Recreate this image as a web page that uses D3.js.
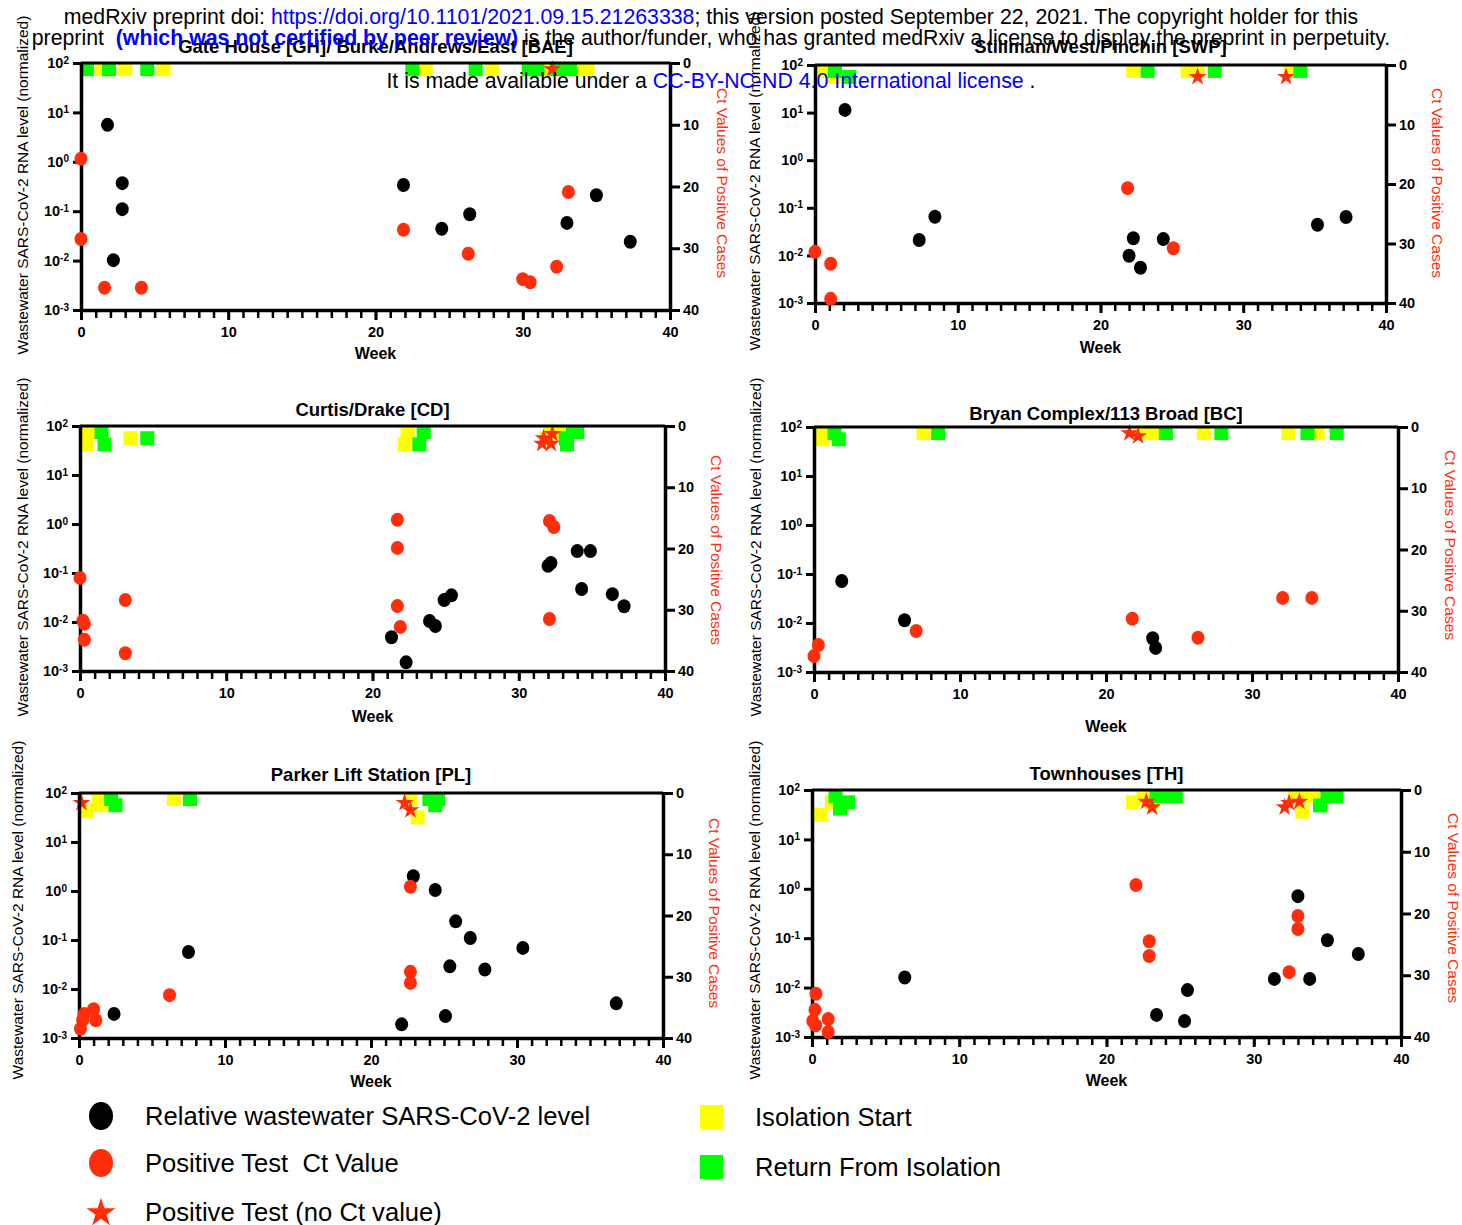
<!DOCTYPE html>
<html><head><meta charset="utf-8">
<script src="https://cdn.jsdelivr.net/npm/d3@7"></script>
<style>body{margin:0;background:#fff;} svg{display:block;font-family:"Liberation Sans",Arial,Helvetica,sans-serif;}</style>
</head><body><svg id="c" width="1462" height="1225"></svg>
<script>
// ---------- DATA ----------
const weekTicks = [0, 10, 20, 30, 40];
const weekMinor = d3.range(0, 41, 1);
const wwTicks = [1e-3, 1e-2, 1e-1, 1e0, 1e1, 1e2];
const ctTicks = [0, 10, 20, 30, 40];

const titles = ["Gate House [GH]/ Burke/Andrews/East [BAE]", "Stillman/West/Pinchin [SWP]", "Curtis/Drake [CD]",
  "Bryan Complex/113 Broad [BC]", "Parker Lift Station [PL]", "Townhouses [TH]"];

// [week, normalized wastewater level]
const ghWW = [[1.8,5.6],[2.8,0.37],[2.8,0.11],[2.2,0.0102],[21.9,0.34],[24.5,0.044],[26.4,0.087],[33.0,0.058],[35.0,0.21],[37.3,0.024]];
// [week, Ct value]
const ghCt = [[0,15.5],[0,28.5],[1.6,36.4],[4.1,36.4],[21.9,27.0],[26.3,30.9],[30.0,35.0],[30.5,35.5],[32.3,33.0],[33.1,20.9]];
// [week, stack row]
const ghIso = [[1.4,1],[3.0,1],[5.6,1],[23.4,1],[27.9,1],[31.7,1],[33.9,1],[34.4,1]];
const ghRet = [[0.4,1],[1.9,1],[4.5,1],[22.5,1],[26.8,1],[30.4,1],[31.0,1],[32.3,1],[33.2,1]];
const ghStar = [[32.0,1]];

const swpWW = [[2.1,11.4],[7.3,0.021],[8.4,0.065],[22.0,0.0098],[22.3,0.023],[22.8,0.0055],[24.4,0.022],[35.2,0.044],[37.2,0.064]];
const swpCt = [[0,31.4],[1.1,33.4],[1.1,39.3],[21.9,20.7],[25.1,30.8]];
const swpIso = [[0.45,1],[1.3,2],[22.3,1],[26.1,1],[26.8,1],[33.3,1]];
const swpRet = [[1.4,1],[2.4,2],[23.3,1],[28.0,1],[34.0,1]];
const swpStar = [[26.8,2],[33.0,2]];

const cdWW = [[21.3,0.0049],[22.3,0.0015],[23.9,0.0105],[24.3,0.0083],[24.9,0.028],[25.4,0.035],[32.0,0.14],[32.2,0.16],[34.0,0.28],[34.9,0.28],[34.3,0.047],[36.4,0.037],[37.2,0.021]];
const cdCt = [[0,24.8],[0.2,31.8],[0.3,32.3],[0.3,34.9],[3.1,28.4],[3.1,37.1],[21.7,15.3],[21.7,19.9],[21.7,29.4],[21.9,32.8],[32.1,15.5],[32.4,16.5],[32.1,31.5]];
const cdIso = [[0.58,1],[0.44,3],[3.45,2],[22.4,1],[22.2,3],[32.2,1],[32.7,1],[31.9,2]];
const cdRet = [[1.47,1],[1.68,3],[4.6,2],[23.5,1],[23.2,3],[33.7,1],[34.0,1],[33.2,2],[33.3,3]];
const cdStar = [[31.7,2],[32.3,1.3],[31.6,2.9],[32.2,2.9]];

const bcWW = [[1.9,0.072],[6.2,0.0114],[23.2,0.0049],[23.4,0.0031]];
const bcCt = [[0,37.4],[0.3,35.6],[7.0,33.3],[21.8,31.3],[26.3,34.4],[32.1,27.9],[34.1,27.9]];
const bcIso = [[0.4,1],[0.6,2],[7.5,1],[22.4,1],[23.3,1],[26.7,1],[32.5,1],[34.5,1]];
const bcRet = [[1.4,1],[1.7,2],[8.5,1],[24.1,1],[27.9,1],[33.8,1],[35.8,1]];
const bcStar = [[21.6,1],[22.2,1.5]];

const plWW = [[2.4,0.0031],[7.5,0.057],[22.1,0.0019],[22.9,2.0],[24.4,1.05],[25.1,0.0028],[25.4,0.029],[25.8,0.24],[26.8,0.11],[27.8,0.025],[30.4,0.069],[36.8,0.0051]];
const plCt = [[0.1,38.5],[0.25,37.1],[0.35,36.1],[1.0,35.3],[1.15,37.1],[6.2,33.0],[22.7,15.3],[22.7,29.2],[22.7,31.0]];
const plIso = [[0.5,3],[1.35,1],[1.5,2],[6.5,1],[22.7,1],[23.2,4]];
const plRet = [[2.2,1],[2.5,2],[7.6,1],[24.0,1],[24.6,1],[24.4,2]];
const plStar = [[0.17,1.6],[22.3,1.6],[22.7,2.8]];

const thWW = [[6.3,0.016],[23.4,0.0028],[25.3,0.0021],[25.5,0.0089],[31.4,0.015],[33.0,0.71],[33.8,0.015],[35.0,0.091],[37.1,0.048]];
const thCt = [[0.27,33.0],[0.2,35.6],[0.05,37.4],[0.25,38.1],[1.1,37.1],[1.1,39.2],[22.0,15.4],[22.9,24.5],[22.9,26.9],[32.4,29.5],[33.0,20.4],[33.0,22.5]];
const thIso = [[0.55,4],[1.35,2],[21.8,2],[22.5,1],[23.1,2],[32.8,1],[33.5,1],[34.0,1],[33.3,3.5]];
const thRet = [[1.6,1],[1.9,3],[2.45,2],[23.4,1],[24.1,1],[24.7,1],[35.0,1],[35.6,1],[34.5,2.5]];
const thStar = [[22.7,1.9],[23.1,2.8],[32.1,2.8],[32.4,2.1],[33.1,1.9]];

const legendLeft = ["Relative wastewater SARS-CoV-2 level", "Positive Test\u00A0 Ct Value", "Positive Test (no Ct value)"];
const legendRight = ["Isolation Start", "Return From Isolation"];

// ---------- LAYOUT ----------
const layout = [
  {L:81, R:670, T:63, B:310, tY:46, wY:353, ylX:22, ylY:185, rlX:722, rlY:183},
  {L:815, R:1386, T:65, B:303, tY:46, wY:347, ylX:754, ylY:181, rlX:1437, rlY:183},
  {L:80, R:665, T:426, B:671, tY:409, wY:716, ylX:22, ylY:547, rlX:716, rlY:550},
  {L:814, R:1398, T:427, B:672, tY:413, wY:726, ylX:755, ylY:547, rlX:1450, rlY:545},
  {L:79, R:663, T:793, B:1038, tY:774, wY:1081, ylX:17, ylY:910, rlX:714, rlY:913},
  {L:812, R:1401, T:790, B:1037, tY:773, wY:1080, ylX:754, ylY:910, rlX:1453, rlY:908}
];
const dataSets = [
  [ghWW, ghCt, ghIso, ghRet, ghStar],
  [swpWW, swpCt, swpIso, swpRet, swpStar],
  [cdWW, cdCt, cdIso, cdRet, cdStar],
  [bcWW, bcCt, bcIso, bcRet, bcStar],
  [plWW, plCt, plIso, plRet, plStar],
  [thWW, thCt, thIso, thRet, thStar]
];

const RED = "#ff2d0a", YEL = "#ffff00", GRN = "#00ff00";
const svg = d3.select("#c");
const star = d3.symbol().type(d3.symbolStar);

layout.forEach((p, i) => {
  const [ww, ct, iso, ret, st] = dataSets[i];
  const g = svg.append("g");
  const x = d3.scaleLinear().domain([0, 40]).range([p.L, p.R]);
  const yL = d3.scaleLog().domain([1e-3, 1e2]).range([p.B, p.T]);
  const yR = d3.scaleLinear().domain([0, 40]).range([p.T, p.B]);
  const sq = 14;

  // isolation squares
  g.append("g").selectAll("rect").data(iso).join("rect")
    .attr("x", d => x(d[0]) - sq / 2).attr("y", d => yR(d[1]) - sq / 2)
    .attr("width", sq).attr("height", sq).attr("fill", YEL);
  g.append("g").selectAll("rect").data(ret).join("rect")
    .attr("x", d => x(d[0]) - sq / 2).attr("y", d => yR(d[1]) - sq / 2)
    .attr("width", sq).attr("height", sq).attr("fill", GRN);
  g.append("g").selectAll("path").data(st).join("path")
    .attr("d", star.size(100)).attr("transform", d => `translate(${x(d[0])},${yR(d[1])})`)
    .attr("fill", RED);

  // axes
  const ax = g.append("g").attr("font-family", "Liberation Sans, Arial, sans-serif");
  ax.append("line").attr("x1", p.L).attr("x2", p.R).attr("y1", p.T).attr("y2", p.T)
    .attr("stroke", "#000").attr("stroke-width", 3);

  const xMinor = ax.append("g").attr("transform", `translate(0,${p.B})`)
    .call(d3.axisBottom(x).tickValues(weekMinor).tickSize(8).tickFormat(""));
  xMinor.select(".domain").remove();
  xMinor.selectAll(".tick line").attr("stroke-width", 2.5);

  const xAx = ax.append("g").attr("transform", `translate(0,${p.B})`)
    .call(d3.axisBottom(x).tickValues(weekTicks).tickSize(10).tickSizeOuter(0).tickPadding(7));
  xAx.select(".domain").attr("stroke-width", 3.5);
  xAx.selectAll(".tick line").attr("stroke-width", 3);
  xAx.selectAll(".tick text").attr("font-size", 14.5).attr("font-weight", "bold").attr("fill", "#000");

  const yAx = ax.append("g").attr("transform", `translate(${p.L},0)`)
    .call(d3.axisLeft(yL).tickValues(wwTicks).tickSize(8).tickSizeOuter(0).tickPadding(4)
      .tickFormat(() => ""));
  yAx.select(".domain").attr("stroke-width", 3.5);
  yAx.selectAll(".tick line").attr("stroke-width", 3);
  yAx.selectAll(".tick text").each(function (d) {
    const t = d3.select(this).attr("font-size", 14.5).attr("font-weight", "bold").attr("fill", "#000");
    t.text("10");
    t.append("tspan").attr("dy", "-0.45em").attr("font-size", 10).text(Math.round(Math.log10(d)));
  });

  const rAx = ax.append("g").attr("transform", `translate(${p.R},0)`)
    .call(d3.axisRight(yR).tickValues(ctTicks).tickSize(10).tickSizeOuter(0).tickPadding(3));
  rAx.select(".domain").attr("stroke-width", 3.5);
  rAx.selectAll(".tick line").attr("stroke-width", 3);
  rAx.selectAll(".tick text").attr("font-size", 14.5).attr("font-weight", "bold").attr("fill", "#000");

  // points
  g.append("g").selectAll("ellipse").data(ww).join("ellipse")
    .attr("cx", d => x(d[0])).attr("cy", d => yL(d[1])).attr("rx", 6.5).attr("ry", 7).attr("fill", "#000");
  g.append("g").selectAll("ellipse").data(ct).join("ellipse")
    .attr("cx", d => x(d[0])).attr("cy", d => yR(d[1])).attr("rx", 6.5).attr("ry", 7).attr("fill", RED);

  // labels
  g.append("text").attr("x", (p.L + p.R) / 2).attr("y", p.tY).attr("dominant-baseline", "central")
    .attr("text-anchor", "middle").attr("font-size", 18.5).attr("font-weight", "bold").text(titles[i]);
  g.append("text").attr("x", (p.L + p.R) / 2).attr("y", p.wY).attr("dominant-baseline", "central")
    .attr("text-anchor", "middle").attr("font-size", 16).attr("font-weight", "bold").text("Week");
  g.append("text").attr("transform", `translate(${p.ylX},${p.ylY}) rotate(-90)`).attr("dominant-baseline", "central")
    .attr("text-anchor", "middle").attr("font-size", 15.5).text("Wastewater SARS-CoV-2 RNA level (normalized)");
  g.append("text").attr("transform", `translate(${p.rlX},${p.rlY}) rotate(90)`).attr("dominant-baseline", "central")
    .attr("text-anchor", "middle").attr("font-size", 15.5).attr("fill", RED).text("Ct Values of Positive Cases");
});

// ---------- LEGEND ----------
const lg = svg.append("g");
const legY = [1116, 1163, 1212];
lg.append("ellipse").attr("cx", 101).attr("cy", legY[0]).attr("rx", 12).attr("ry", 14).attr("fill", "#000");
lg.append("ellipse").attr("cx", 101).attr("cy", legY[1]).attr("rx", 12).attr("ry", 14).attr("fill", RED);
lg.append("path").attr("d", d3.symbol().type(d3.symbolStar).size(260)()).attr("transform", `translate(101,${legY[2] + 1})`).attr("fill", RED);
legendLeft.forEach((t, i) => lg.append("text").attr("x", 145).attr("y", legY[i]).attr("dominant-baseline", "central")
  .attr("font-size", 25.6).text(t));
const legRY = [1117, 1167];
lg.append("rect").attr("x", 700).attr("y", legRY[0] - 12).attr("width", 23).attr("height", 24).attr("fill", YEL);
lg.append("rect").attr("x", 700).attr("y", legRY[1] - 12).attr("width", 23).attr("height", 24).attr("fill", GRN);
legendRight.forEach((t, i) => lg.append("text").attr("x", 755).attr("y", legRY[i]).attr("dominant-baseline", "central")
  .attr("font-size", 25.6).text(t));

// ---------- medRxiv header ----------
const BLUE = "#0000ff";
const h = svg.append("g").attr("font-size", 21.3);
const l1 = h.append("text").attr("x", 711).attr("y", 24).attr("text-anchor", "middle");
l1.append("tspan").text("medRxiv preprint doi: ");
l1.append("tspan").attr("fill", BLUE).text("https://doi.org/10.1101/2021.09.15.21263338");
l1.append("tspan").text("; this version posted September 22, 2021. The copyright holder for this");
const l2 = h.append("text").attr("x", 711).attr("y", 45).attr("text-anchor", "middle");
l2.append("tspan").text("preprint\u00A0 ");
l2.append("tspan").attr("fill", BLUE).attr("font-weight", "bold").text("(which was not certified by peer review)");
l2.append("tspan").text(" is the author/funder, who has granted medRxiv a license to display the preprint in perpetuity.");
const l3 = h.append("text").attr("x", 711).attr("y", 88).attr("text-anchor", "middle");
l3.append("tspan").text("It is made available under a ");
l3.append("tspan").attr("fill", BLUE).text("CC-BY-NC-ND 4.0 International license");
l3.append("tspan").text(" .");
</script>
</body></html>
